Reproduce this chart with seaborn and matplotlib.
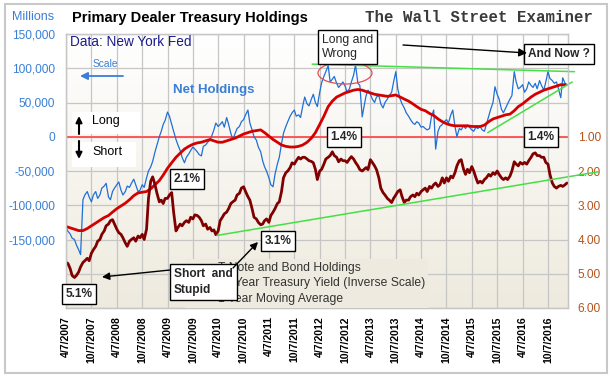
import matplotlib
matplotlib.use("Agg")
import matplotlib.pyplot as plt
from matplotlib.lines import Line2D
from matplotlib.patches import Ellipse, Rectangle, FancyArrowPatch
import numpy as np
import pandas as pd
import seaborn as sns

# Net T-note and bond holdings, thousands of $ millions, twice a month from 4/7/2007
net_2007 = [-133, -138, -142, -148, -150, -158, -165, -172, -92, -85, -80, -88, -95, -85, -80, -90, -85, -75]
net_2008 = [-72, -68, -88, -92, -80, -75, -70, -66, -78, -85, -80, -72, -74, -68, -62, -70, -80, -78, -70, -74, -60, -50, -44, -36]
net_2009 = [-22, -12, 0, 8, 18, 24, 36, 30, 18, 8, -4, -12, -20, -30, -38, -30, -25, -20, -15, -18, -22, -26, -28, -14]
net_2010 = [-12, -8, -5, 2, 10, 20, 15, 18, 22, 14, 28, 18, 5, -4, 5, 12, 15, 22, 25, 32, 39, 20, 10, 0]
net_2011 = [-5, -15, -22, -35, -44, -50, -60, -70, -73, -55, -40, -30, -10, 5, 15, 22, 30, 35, 39, 30, 32, 28, 45, 58]
net_2012 = [48, 45, 55, 62, 50, 44, 65, 79, 88, 95, 104, 80, 84, 88, 78, 72, 76, 80, 74, 65, 70, 80, 90, 105]
net_2013 = [78, 75, 29, 45, 60, 68, 62, 55, 50, 58, 60, 48, 42, 50, 55, 60, 65, 80, 95, 70, 55, 48, 42, 35]
net_2014 = [30, 25, 20, 18, 22, 20, 14, 15, 12, 10, 12, 30, 39, -18, 8, 15, 18, 22, 25, 20, 32, 39, 15, 0]
net_2015 = [12, 10, 16, 12, 17, 14, 10, 8, 14, 12, 15, 10, 8, 18, 30, 40, 50, 73, 62, 55, 40, 35, 42, 48]
net_2016 = [55, 60, 95, 80, 70, 72, 76, 65, 70, 80, 75, 72, 78, 70, 82, 75, 68, 80, 95, 85, 82, 78, 80, 70]
net_2017 = [57, 86, 78, 76]

# 10 year treasury yield (%), same dates
yld_2007 = [4.67, 4.70, 4.85, 5.05, 5.11, 5.05, 4.95, 4.80, 4.67, 4.62, 4.55, 4.62, 4.40, 4.30, 4.20, 4.05, 4.00, 3.85]
yld_2008 = [3.75, 3.60, 3.55, 3.45, 3.42, 3.55, 3.70, 3.80, 3.85, 3.95, 4.10, 4.20, 4.05, 4.00, 3.95, 4.05, 3.90, 3.95, 3.85, 4.00, 3.70, 2.80, 2.30, 2.17]
yld_2009 = [2.40, 2.65, 2.90, 2.85, 2.95, 2.80, 2.80, 2.70, 2.63, 3.20, 3.75, 3.65, 3.55, 3.60, 3.50, 3.45, 3.50, 3.35, 3.40, 3.28, 3.30, 3.35, 3.45, 3.60]
yld_2010 = [3.55, 3.70, 3.65, 3.75, 3.72, 3.86, 3.75, 3.45, 3.35, 3.25, 3.20, 3.10, 2.95, 2.90, 2.85, 2.70, 2.65, 2.50, 2.46, 2.60, 2.75, 2.85, 3.10, 3.35]
yld_2011 = [3.40, 3.50, 3.57, 3.55, 3.45, 3.40, 3.50, 3.30, 3.20, 3.10, 2.95, 2.90, 2.60, 2.20, 2.05, 2.00, 1.90, 1.76, 1.80, 1.70, 1.60, 1.65, 1.60, 1.60]
yld_2012 = [1.65, 1.70, 1.72, 1.76, 1.95, 2.25, 2.00, 1.95, 1.80, 1.65, 1.60, 1.55, 1.44, 1.55, 1.60, 1.73, 1.65, 1.70, 1.70, 1.75, 1.65, 1.58, 1.65, 1.75]
yld_2013 = [1.85, 1.96, 2.00, 1.95, 1.90, 1.96, 1.67, 1.75, 1.85, 1.96, 2.20, 2.50, 2.63, 2.70, 2.80, 2.85, 2.92, 2.80, 2.70, 2.60, 2.55, 2.75, 2.92, 2.85]
yld_2014 = [2.85, 2.75, 2.70, 2.75, 2.65, 2.70, 2.60, 2.55, 2.50, 2.60, 2.45, 2.50, 2.40, 2.35, 2.45, 2.40, 2.20, 2.35, 2.20, 2.30, 2.15, 2.20, 2.05, 1.85]
yld_2015 = [1.70, 1.67, 1.95, 2.10, 1.95, 2.05, 1.87, 2.00, 2.20, 2.35, 2.30, 2.35, 2.25, 2.20, 2.10, 2.15, 2.05, 2.10, 2.00, 2.10, 2.20, 2.25, 2.20, 2.25]
yld_2016 = [2.15, 2.00, 1.73, 1.80, 1.85, 1.75, 1.80, 1.75, 1.80, 1.70, 1.60, 1.50, 1.47, 1.55, 1.55, 1.60, 1.60, 1.75, 1.80, 2.10, 2.35, 2.45, 2.50, 2.45]
yld_2017 = [2.42, 2.45, 2.40, 2.35]

# 1 year moving average of net holdings, thousands of $ millions, monthly from 4/7/2007
ma_2007 = [-131, -133, -135, -137, -137, -134, -130, -126, -122]
ma_2008 = [-118, -115, -110, -105, -101, -97, -92, -86, -82, -81, -80, -76]
ma_2009 = [-70, -64, -56, -46, -38, -30, -24, -18, -14, -11, -9, -8]
ma_2010 = [-6, -4, -6, -8, -8, -6, -4, -2, 1, 4, 6, 8]
ma_2011 = [9, 10, 6, 1, -4, -8, -12, -14, -15, -15, -14, -12]
ma_2012 = [-8, -2, 6, 18, 30, 44, 52, 58, 61, 64, 66, 68]
ma_2013 = [69, 68, 66, 64, 62, 61, 60, 59, 60, 61, 58, 55]
ma_2014 = [52, 48, 44, 40, 38, 34, 31, 26, 22, 19, 17, 16]
ma_2015 = [16, 16, 16, 15, 15, 15, 17, 22, 26, 28, 30, 32]
ma_2016 = [33, 38, 44, 48, 53, 58, 62, 65, 68, 70, 72, 74]
ma_2017 = [76, 76]

# hand drawn trend lines (date, value)
top_trend_dates = ["2012-02-13", "2017-04-16"]
top_trend_vals = [106000, 95000]
up_trend_dates = ["2015-07-31", "2017-03-31"]
up_trend_vals = [6000, 80000]
yld_trend_dates = ["2010-03-30", "2017-10-07"]
yld_trend_vals = [3.88, 2.02]

tick_dates = [f"{y}-{m:02d}-07" for y in range(2007, 2017) for m in (4, 10)]
left_ticks = [150000, 100000, 50000, 0, -50000, -100000, -150000, -200000, -250000]
right_ticks = [1, 2, 3, 4, 5, 6]

net = net_2007 + net_2008 + net_2009 + net_2010 + net_2011 + net_2012 + net_2013 + net_2014 + net_2015 + net_2016 + net_2017
yld = yld_2007 + yld_2008 + yld_2009 + yld_2010 + yld_2011 + yld_2012 + yld_2013 + yld_2014 + yld_2015 + yld_2016 + yld_2017
ma = ma_2007 + ma_2008 + ma_2009 + ma_2010 + ma_2011 + ma_2012 + ma_2013 + ma_2014 + ma_2015 + ma_2016 + ma_2017

semi = pd.date_range("2007-04-01", periods=len(net), freq="SMS") + pd.Timedelta(days=6)
monthly = pd.date_range("2007-04-01", periods=len(ma), freq="MS") + pd.Timedelta(days=6)
df = pd.DataFrame({"date": semi, "net": np.array(net) * 1000, "yield": yld})
df_ma = pd.DataFrame({"date": monthly, "ma": np.array(ma) * 1000})

BLUE = "#1f6fd6"
LBLUE = "#3a7fd5"
RED = "#d40000"
DARKRED = "#800000"
GREEN = "#44e044"
BROWN = "#b5541f"
GRID = "#c6c6c6"

sns.set_theme(style="whitegrid")
plt.rcParams["font.family"] = ["Liberation Sans", "DejaVu Sans"]

W, H = 612, 377
def fx(px):
    return px / W
def fy(py):
    return 1 - py / H

fig = plt.figure(figsize=(6.12, 3.77), dpi=100)
fig.patch.set_facecolor("white")
ax = fig.add_axes([fx(66), fy(308), fx(568) - fx(66), fy(34) - fy(308)])
ax2 = ax.twinx()

ax.axhline(0, color="#ff4d4d", lw=1.3, zorder=2)
sns.lineplot(data=df, x="date", y="net", ax=ax, color=BLUE, lw=0.9, zorder=3)
sns.lineplot(data=df_ma, x="date", y="ma", ax=ax, color=RED, lw=2.0, zorder=4)
sns.lineplot(data=df, x="date", y="yield", ax=ax2, color=DARKRED, lw=2.0)

ax.plot(pd.to_datetime(top_trend_dates), top_trend_vals, color=GREEN, lw=1.1, clip_on=False, zorder=5)
ax.plot(pd.to_datetime(up_trend_dates), up_trend_vals, color=GREEN, lw=1.1, clip_on=False, zorder=5)
ax2.plot(pd.to_datetime(yld_trend_dates), yld_trend_vals, color=GREEN, lw=1.1, clip_on=False)

# background gradient
grad = np.linspace(0, 1, 256).reshape(-1, 1)
top_c = np.array([1.0, 1.0, 1.0])
bot_c = np.array([238, 234, 222]) / 255
img = top_c + (bot_c - top_c) * grad[:, :, None] * np.ones((1, 1, 3))
ax.imshow(img, extent=[0, 1, 0, 1], transform=ax.transAxes, aspect="auto", zorder=0)

ax.set_xlim(pd.Timestamp("2007-04-07"), pd.Timestamp("2017-02-28"))
ax.set_ylim(-250000, 150000)
ax2.set_ylim(6, -2)

td = pd.to_datetime(tick_dates)
ax.set_xticks(td)
ax.set_xticklabels([f"{d.month}/{d.day}/{d.year}" for d in td], rotation=90,
                   fontsize=7.6, fontweight="bold", color="black")
ax.set_yticks(left_ticks)
ax.set_yticklabels([f"{v:,}" if v > -200000 else "" for v in left_ticks], fontsize=8.6, color=LBLUE)
ax2.set_yticks(right_ticks)
ax2.set_yticklabels([f"{v:.2f}" for v in right_ticks], fontsize=8.6, color=BROWN)
ax.tick_params(axis="x", length=0, pad=6)
ax.tick_params(axis="y", length=0, pad=8)
ax2.tick_params(axis="y", length=0, pad=7)
ax.set_xlabel("")
ax.set_ylabel("")
ax2.set_ylabel("")
ax.grid(True, color=GRID, lw=0.9)
ax.set_axisbelow(True)
ax2.grid(False)
for a in (ax, ax2):
    for s in a.spines.values():
        s.set_color(GRID)
        s.set_linewidth(0.9)

handles = [Line2D([], [], color=BLUE, lw=1.0), Line2D([], [], color=DARKRED, lw=2.0),
           Line2D([], [], color=RED, lw=2.0)]
labels = ["T-Note and Bond Holdings", "10 Year Treasury Yield (Inverse Scale)", "1 Year Moving Average"]
leg = ax2.legend(handles, labels, loc="lower left", bbox_to_anchor=(0.237, 0.0), frameon=True,
                 facecolor="#eeeadf", edgecolor="none", framealpha=1, fancybox=False,
                 fontsize=8.7, handlelength=2.3, handletextpad=0.2, labelspacing=0.3,
                 borderpad=0.25, borderaxespad=0)
for t in leg.get_texts():
    t.set_color("#333333")

# header texts
fig.text(fx(12), fy(17), "Millions", fontsize=9, color=LBLUE, va="center")
fig.text(fx(72), fy(18), "Primary Dealer Treasury Holdings", fontsize=10.5, fontweight="bold",
         color="black", va="center")
fig.text(fx(593), fy(17), "The Wall Street Examiner", fontsize=11.3, fontweight="bold",
         family="Liberation Mono", color="#3a3a3a", ha="right", va="center")
fig.text(fx(70), fy(42), "Data: New York Fed", fontsize=9.8, color="#1c1c8a", va="center")
fig.text(fx(93), fy(64), "Scale", fontsize=7.4, color=LBLUE, va="center")
fig.text(fx(173), fy(90), "Net Holdings", fontsize=9.5, fontweight="bold", color=LBLUE, va="center")

def arrow(x0, y0, x1, y1, color="black", lw=1.0, ms=10):
    fig.add_artist(FancyArrowPatch((fx(x0), fy(y0)), (fx(x1), fy(y1)), transform=fig.transFigure,
                                   arrowstyle="-|>", color=color, lw=lw, mutation_scale=ms,
                                   shrinkA=0, shrinkB=0, zorder=7))

arrow(123, 76, 80, 76, color=LBLUE, lw=1.3, ms=11)

# long / short boxes
fig.add_artist(Rectangle((fx(72), fy(134)), 68 / W, 22 / H, transform=fig.transFigure,
                         fc="white", ec="none", zorder=4))
fig.add_artist(Rectangle((fx(72), fy(167)), 64 / W, 25 / H, transform=fig.transFigure,
                         fc="white", ec="none", zorder=4))
arrow(79, 134, 79, 116, lw=1.5, ms=9)
arrow(79, 141, 79, 159, lw=1.5, ms=9)
fig.text(fx(92), fy(121), "Long", fontsize=9, color="black", va="center", zorder=5)
fig.text(fx(92), fy(152), "Short", fontsize=9, color="black", va="center", zorder=5)

box = dict(boxstyle="square,pad=0.3", fc="white", ec="black", lw=1.0)
def label(px, py, s, bold=True, size=8.6):
    fig.text(fx(px), fy(py), s, fontsize=size, fontweight="bold" if bold else "normal",
             ha="center", va="center", bbox=box, zorder=6, linespacing=1.25)

label(187, 179, "2.1%")
label(344, 137, "1.4%")
label(541, 137, "1.4%")
label(278, 241, "3.1%")
label(79, 294, "5.1%")
fig.text(fx(322), fy(47), "Long and\nWrong", fontsize=8.8, ha="left", va="center",
         bbox=dict(boxstyle="square,pad=0.3", fc="white", ec="black", lw=1.0), zorder=6,
         linespacing=1.3)
label(559, 54, "And Now ?", size=8.6)
fig.text(fx(174), fy(282), "Short  and\nStupid", fontsize=8.6, fontweight="bold", ha="left",
         va="center", bbox=dict(boxstyle="square,pad=0.35", fc="white", ec="black", lw=1.0),
         zorder=6, linespacing=1.35)

arrow(403, 45, 527, 53, lw=1.0, ms=12)
arrow(170, 270, 102, 277, lw=1.0, ms=11)
arrow(233, 268, 258, 242, lw=1.0, ms=11)

fig.add_artist(Ellipse((fx(345), fy(73)), 54 / W, 22 / H, transform=fig.transFigure,
                       fill=False, ec="#e05050", lw=0.9, zorder=6))

# outer border
fig.add_artist(Rectangle((fx(5), fy(373)), 602 / W, 369 / H, transform=fig.transFigure,
                         fill=False, ec="#c8c8c8", lw=1.5, zorder=1))

fig.savefig("out.png", dpi=100, facecolor="white")
